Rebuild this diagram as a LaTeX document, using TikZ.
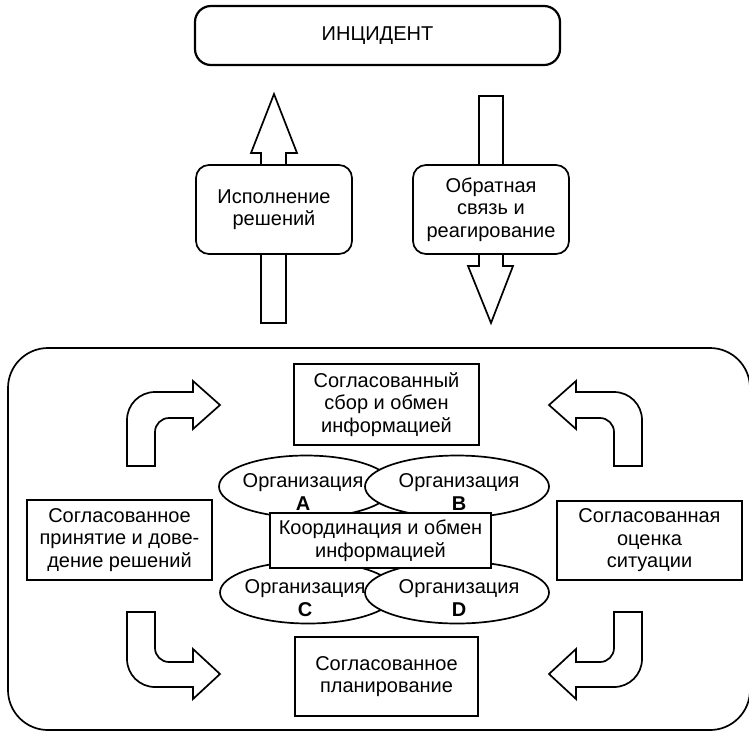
\documentclass[tikz,border=0pt]{standalone}
\usepackage{fontspec}
\setmainfont{Liberation Sans}
\usetikzlibrary{shapes.geometric}
\begin{document}
\begin{tikzpicture}[x=1pt,y=-1pt, line width=1.7pt, line join=miter,
  txt/.style={font=\fontsize{20}{22.5}\selectfont, align=center, inner sep=0pt},
  rbox/.style={txt, draw, rounded corners=13pt, fill=white},
  sbox/.style={txt, draw, fill=white},
  orgE/.style={draw, ellipse, fill=white, inner sep=0pt},
  blk/.style={draw, fill=white}]
\useasboundingbox (0,0) rectangle (749,732);

% big frame
\node[draw, rounded corners=40pt, minimum width=742pt, minimum height=382pt, inner sep=0pt] (frame) at (379,539) {};

% top part
\node[rbox, line width=2.2pt, rounded corners=16pt, minimum width=365pt, minimum height=59pt] (inc) at (377.5,35.5) {ИНЦИДЕНТ};

\draw[blk] (261,323) -- (261,153) -- (251,153) -- (274,94) -- (297,153) -- (286,153) -- (286,323) -- cycle;
\draw[blk] (479,96) -- (503,96) -- (503,266) -- (513,266) -- (491,323) -- (468,266) -- (479,266) -- cycle;

\node[rbox, minimum width=156pt, minimum height=89pt] (exec) at (274,209.5) {Исполнение\\решений};
\node[rbox, minimum width=156pt, minimum height=89pt] (fb) at (491,209.5) {Обратная\\связь и\\реагирование};

% inner boxes
\node[sbox, minimum width=185pt, minimum height=81pt] (collect) at (386.5,404.5) {Согласованный\\сбор и обмен\\информацией};
\node[sbox, minimum width=185pt, minimum height=80pt] (decide) at (119.5,540) {Согласованное\\принятие и дове-\\дение решений};
\node[sbox, minimum width=185pt, minimum height=79pt] (assess) at (649.5,540.5) {Согласованная\\оценка\\ситуации};
\node[sbox, minimum width=183pt, minimum height=79pt] (plan) at (386.5,676.5) {Согласованное\\планирование};

% organisations
\node[orgE, minimum width=174pt, minimum height=62pt] (A) at (306,486.5) {};
\node[orgE, minimum width=184pt, minimum height=62pt] (B) at (457,486.5) {};
\node[orgE, minimum width=176pt, minimum height=62pt] (C) at (308,592.5) {};
\node[orgE, minimum width=184pt, minimum height=62pt] (D) at (457,592.5) {};
\node[txt] (At) at (303,492) {Организация\\\textbf{A}};
\node[txt] (Bt) at (459,492) {Организация\\\textbf{B}};
\node[txt] (Ct) at (305,598) {Организация\\\textbf{C}};
\node[txt] (Dt) at (459,598) {Организация\\\textbf{D}};

\node[sbox, minimum width=221pt, minimum height=55pt] (coord) at (380.5,540.5) {Координация и обмен\\информацией};

% curved block arrows
\draw[blk] (127,466) -- (127,420) .. controls (127,404.5) and (139.5,392) .. (155,392) -- (193,392) -- (193,381) -- (220,405) -- (193,429) -- (193,418) -- (169,418) .. controls (161.3,418) and (155,424.3) .. (155,432) -- (155,466) -- cycle;
\draw[blk] (642,466) -- (642,420) .. controls (642,404.5) and (629.5,392) .. (614,392) -- (576,392) -- (576,381) -- (549,405) -- (576,429) -- (576,418) -- (600,418) .. controls (607.7,418) and (614,424.3) .. (614,432) -- (614,466) -- cycle;
\draw[blk] (127,612) -- (155,612) -- (155,648) .. controls (155,655.7) and (161.3,662) .. (169,662) -- (193,662) -- (193,649) -- (220,674) -- (193,699) -- (193,687) -- (155,687) .. controls (139.5,687) and (127,674.5) .. (127,659) -- cycle;
\draw[blk] (642,612) -- (614,612) -- (614,648) .. controls (614,655.7) and (607.7,662) .. (600,662) -- (576,662) -- (576,649) -- (549,674) -- (576,699) -- (576,687) -- (614,687) .. controls (629.5,687) and (642,674.5) .. (642,659) -- cycle;
\end{tikzpicture}
\end{document}
